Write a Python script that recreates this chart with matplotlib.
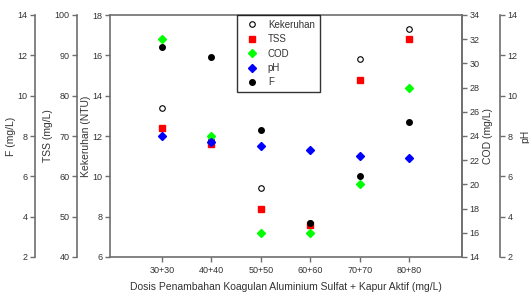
import numpy as np
import matplotlib
matplotlib.use('Agg')
import matplotlib.pyplot as plt

plt.rcParams['font.family'] = ['Liberation Sans', 'DejaVu Sans']

# dosage groups
doses = ['30+30', '40+40', '50+50', '60+60', '70+70', '80+80']

# values
kekeruhan = [13.4, 11.8, 9.4, 7.7, 15.8, 17.3]   # NTU
tss = [72, 68, 52, 48, 84, 94]                    # mg/L
cod = [32, 24, 16, 16, 20, 28]                    # mg/L
ph = [8.0, 7.7, 7.5, 7.3, 7.0, 6.9]
f_val = [12.4, 11.9, 8.3, 3.7, 6.0, 8.7]          # mg/L

axcol = '#6e6e6e'
txtcol = '#333333'
tfs = 6.5
lfs = 7.5

fig = plt.figure(figsize=(5.29, 2.99), dpi=100)
ax = fig.add_axes([110/529, 1-257/299, 352/529, 242/299])
x = np.arange(len(doses))


def style_axis(a, side, lo, hi, step, offset_px=0):
	for s in a.spines.values():
		s.set_visible(False)
	sp = a.spines[side]
	sp.set_visible(True)
	sp.set_color(axcol)
	sp.set_linewidth(1.2)
	if offset_px:
		sp.set_position(('outward', offset_px*0.72))
	a.set_ylim(lo, hi)
	a.set_yticks(np.arange(lo, hi+0.001, step))
	a.yaxis.set_ticks_position(side)
	a.yaxis.set_label_position(side)
	a.tick_params(axis='y', direction='out', length=3.5, width=1, color=axcol,
		labelsize=tfs, labelcolor=txtcol, pad=2)


# main axis: Kekeruhan
ax.plot(x, kekeruhan, 'o', mfc='white', mec='black', ms=4, mew=0.8, label='Kekeruhan')
for s in ['top', 'bottom', 'left', 'right']:
	ax.spines[s].set_color(axcol)
	ax.spines[s].set_linewidth(1.2)
ax.set_ylim(6, 18)
ax.set_yticks(np.arange(6, 18.1, 2))
ax.set_xlim(-1.05, 6.07)
ax.set_xticks(x)
ax.set_xticklabels(doses)
ax.tick_params(axis='both', direction='out', length=3.5, width=1, color=axcol,
	labelsize=tfs, labelcolor=txtcol, pad=3)
ax.tick_params(axis='y', right=False, pad=2)
ax.set_ylabel('Kekeruhan (NTU)', fontsize=lfs, color=txtcol, labelpad=1)
ax.set_xlabel('Dosis Penambahan Koagulan Aluminium Sulfat + Kapur Aktif (mg/L)',
	fontsize=lfs, color=txtcol, labelpad=5)

ax_tss = ax.twinx()
ax_tss.plot(x, tss, 's', color='red', ms=4.5, label='TSS')
style_axis(ax_tss, 'left', 40, 100, 10, 33)
ax_tss.set_ylabel('TSS (mg/L)', fontsize=lfs, color=txtcol, labelpad=1)

ax_cod = ax.twinx()
ax_cod.plot(x, cod, 'D', color='#00ff00', ms=4, label='COD')
style_axis(ax_cod, 'right', 14, 34, 2)
ax_cod.set_ylabel('COD (mg/L)', fontsize=lfs, color=txtcol, labelpad=2)

ax_ph = ax.twinx()
ax_ph.plot(x, ph, 'D', color='blue', ms=4, label='pH')
style_axis(ax_ph, 'right', 2, 14, 2, 38)
ax_ph.set_ylabel('pH', fontsize=lfs, color=txtcol, labelpad=2)

ax_f = ax.twinx()
ax_f.plot(x, f_val, 'o', color='black', ms=4, label='F')
style_axis(ax_f, 'left', 2, 14, 2, 75)
ax_f.set_ylabel('F (mg/L)', fontsize=lfs, color=txtcol, labelpad=1)

handles = []
labels = []
for a in [ax, ax_tss, ax_cod, ax_ph, ax_f]:
	h, l = a.get_legend_handles_labels()
	handles += h
	labels += l
leg = ax_f.legend(handles, labels, loc='upper left', bbox_to_anchor=(0.36, 1.0),
	borderaxespad=0, fontsize=7, fancybox=False, frameon=True,
	handletextpad=0.5, labelspacing=0.45, borderpad=0.5, handlelength=2.2)
leg.get_frame().set_edgecolor('black')
leg.get_frame().set_linewidth(1)
for t in leg.get_texts():
	t.set_color(txtcol)

fig.savefig('out.png', dpi=100)
